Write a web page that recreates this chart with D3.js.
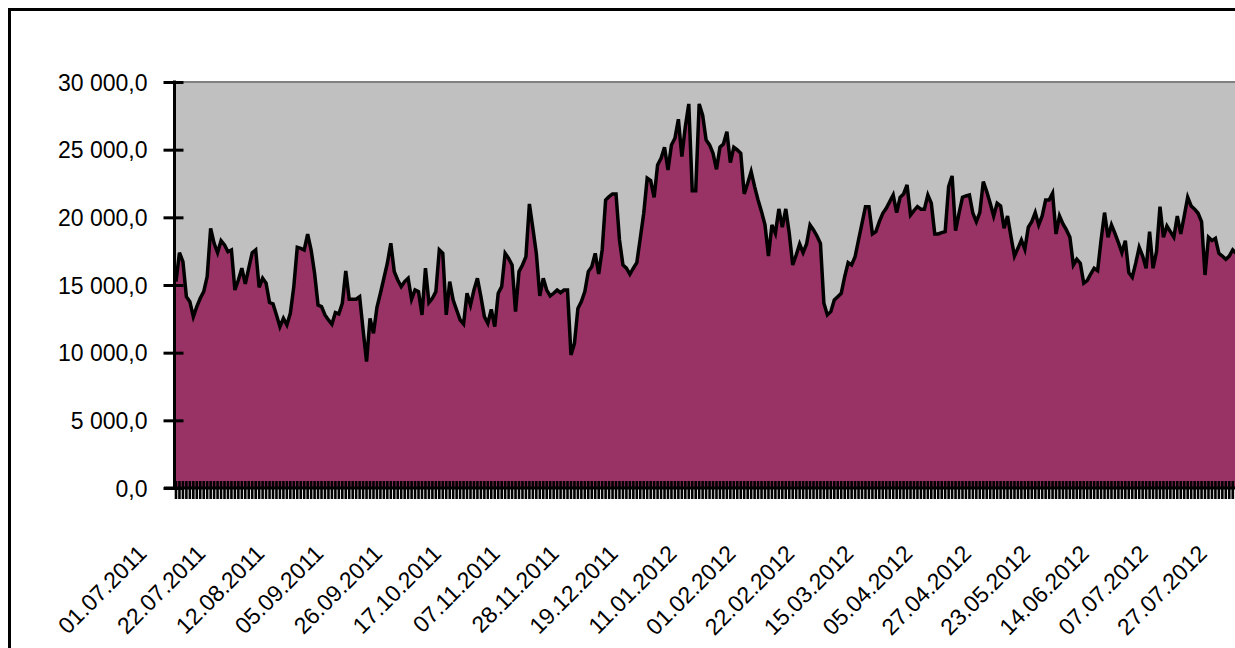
<!DOCTYPE html>
<html>
<head>
<meta charset="utf-8">
<script src="https://cdn.jsdelivr.net/npm/d3@7"></script>
<style>
  body { margin: 0; background: #fff; }
  svg text { font-family: Arial, "Liberation Sans", sans-serif; }
</style>
</head>
<body>
<svg id="chart" width="1235" height="648"></svg>
<script>
// values, one per trading day from 01.07.2011
var vals2011a = [15250, 17390, 16730, 14140, 13770, 12660, 13400, 14020, 14510, 15620, 19190, 18080, 17390, 18280, 17960, 17460, 17590, 14630, 15370, 16240, 15080, 16240, 17390, 17590, 14830, 15500, 15130, 13700, 13600, 12790, 11920, 12540, 12050, 12910, 14880, 17790, 17710, 17590, 18750, 17590, 15870, 13520, 13400, 12790, 12420, 12100, 12960, 12860, 13650, 16040, 13950, 13950, 13950, 14140, 11680, 9340, 12540, 11430, 13350, 14390, 15500, 16610, 18080, 15990, 15370, 14880, 15250, 15500, 13950, 14630, 14510, 12790, 16240, 13700, 14020, 14510, 17590];
var vals2011b = [17340, 12790, 15250, 13890, 13150, 12420, 12120, 14390, 13520, 14630, 15500, 14140, 12660, 12170, 13200, 11920, 14390, 14880, 17340, 16970, 16480, 13030, 15990, 16480, 17090, 20990, 19190, 17340, 14190, 15500, 14630, 14190, 14390, 14630, 14430, 14630, 14630, 9830, 10690, 13270, 13770, 14510, 15990, 16350, 17340, 15810, 17590, 21280, 21530, 21730, 21730, 18330, 16480, 16240, 15790, 16240, 16650, 18450, 20300, 22890, 22710, 21480, 23870, 24360, 25180, 23500, 25350, 25840, 27250, 24490, 26700, 28380, 21970, 21970, 28380, 27560, 25720];
var vals2012a = [25350, 24730, 23550, 25180, 25420, 26330, 24040, 25180, 24980, 24730, 21730, 22520, 23380, 22270, 21280, 20420, 19440, 17140, 19440, 18820, 20620, 19270, 20620, 18820, 16480, 17220, 18030, 17390, 18030, 19440, 19070, 18620, 18080, 13650, 12790, 13030, 13890, 14140, 14390, 15620, 16650, 16480, 17090, 18330, 19560, 20790, 20790, 18770, 18940, 19680, 20300, 20670, 21160, 21650, 20350, 21480, 21730, 22390, 20170, 20490, 20790, 20600, 20600, 21650, 21040, 18770, 18770, 18870, 18940, 22270, 23060, 19020, 20300, 21480, 21580, 21650, 20300];
var vals2012b = [19680, 20350, 22640, 21900, 21040, 20100, 21040, 20840, 19190, 20100, 18570, 17140, 17710, 18330, 17640, 19270, 19680, 20350, 19440, 20100, 21280, 21280, 21780, 18770, 20100, 19510, 19070, 18530, 16480, 16900, 16610, 15130, 15320, 15810, 16240, 16060, 18330, 20350, 18530, 19440, 18820, 18130, 17390, 18280, 15910, 15570, 16610, 17790, 17140, 16240, 18940, 16240, 17460, 20790, 18530, 19360, 18940, 18530, 20100, 18770, 20100, 21480, 20840, 20600, 20300, 19680, 15740, 18530, 18280, 18450, 17340, 17140, 16900, 17140, 17590, 17340, 16970];

var tickLabels = ['01.07.2011', '22.07.2011', '12.08.2011', '05.09.2011', '26.09.2011', '17.10.2011',
    '07.11.2011', '28.11.2011', '19.12.2011', '11.01.2012', '01.02.2012', '22.02.2012', '15.03.2012',
    '05.04.2012', '27.04.2012', '23.05.2012', '14.06.2012', '07.07.2012', '27.07.2012'];
var labelStep = 17;
var yTicks = [0, 5000, 10000, 15000, 20000, 25000, 30000];

var values = vals2011a.concat(vals2011b, vals2012a, vals2012b);

var svg = d3.select('#chart');
var plotLeft = 176, plotTop = 82, plotBottom = 488;
var gap = 58.9 / labelStep;

var x = d3.scaleLinear()
    .domain([0, values.length - 1])
    .range([plotLeft, plotLeft + (values.length - 1) * gap]);
var y = d3.scaleLinear()
    .domain([0, 30000])
    .range([plotBottom, plotTop]);

var fmt = function (v) {
    return d3.format(',.1f')(v).replace(/,/g, ' ').replace('.', ',');
};

// outer frame (runs off the picture on the right and bottom)
svg.append('rect')
    .attr('x', 9.5).attr('y', 9.5)
    .attr('width', 1400).attr('height', 800)
    .attr('fill', 'none')
    .attr('stroke', '#000')
    .attr('stroke-width', 3);

// plot area
svg.append('rect')
    .attr('x', plotLeft).attr('y', plotTop)
    .attr('width', 1300).attr('height', plotBottom - plotTop)
    .attr('fill', '#c0c0c0');
svg.append('line')
    .attr('x1', plotLeft).attr('x2', 1300)
    .attr('y1', plotTop).attr('y2', plotTop)
    .attr('stroke', '#808080')
    .attr('stroke-width', 2);

var area = d3.area()
    .x(function (d, i) { return x(i); })
    .y0(plotBottom)
    .y1(function (d) { return y(d); });
var line = d3.line()
    .x(function (d, i) { return x(i); })
    .y(function (d) { return y(d); });

svg.append('path')
    .datum(values)
    .attr('d', area)
    .attr('fill', '#993366');
svg.append('path')
    .datum(values)
    .attr('d', line)
    .attr('fill', 'none')
    .attr('stroke', '#000')
    .attr('stroke-width', 3.5)
    .attr('stroke-linejoin', 'miter');

// y axis
var yAxis = d3.axisLeft(y)
    .tickValues(yTicks)
    .tickSize(0)
    .tickPadding(0)
    .tickFormat(fmt);
var gy = svg.append('g')
    .attr('transform', 'translate(' + (plotLeft - 1.5) + ',0)')
    .call(yAxis);
gy.select('.domain').remove();
gy.selectAll('.tick line').remove();
gy.selectAll('.tick').append('line')
    .attr('x1', -11).attr('x2', 9)
    .attr('stroke', '#000')
    .attr('stroke-width', 3);
gy.selectAll('.tick text')
    .attr('x', -27)
    .attr('dy', '0.35em')
    .attr('fill', '#000')
    .style('font-size', '23px');
gy.append('line')
    .attr('y1', plotTop - 1.5).attr('y2', plotBottom + 1.5)
    .attr('stroke', '#000')
    .attr('stroke-width', 3);

// x axis: one cross tick per point
var gx = svg.append('g');
gx.selectAll('line.tk')
    .data(d3.range(values.length))
    .enter()
    .append('line')
        .attr('class', 'tk')
        .attr('x1', function (i) { return x(i); })
        .attr('x2', function (i) { return x(i); })
        .attr('y1', plotBottom - 7)
        .attr('y2', plotBottom + 11)
        .attr('stroke', '#000')
        .attr('stroke-width', 2.6);
gx.append('line')
    .attr('x1', plotLeft - 12).attr('x2', 1300)
    .attr('y1', plotBottom).attr('y2', plotBottom)
    .attr('stroke', '#000')
    .attr('stroke-width', 3);

gx.selectAll('text')
    .data(tickLabels)
    .enter()
    .append('text')
        .attr('transform', function (d, k) {
            return 'translate(' + (x(k * labelStep) - 28) + ',555) rotate(-45)';
        })
        .attr('text-anchor', 'end')
        .style('font-size', '23px')
        .text(function (d) { return d; });
</script>
</body>
</html>
